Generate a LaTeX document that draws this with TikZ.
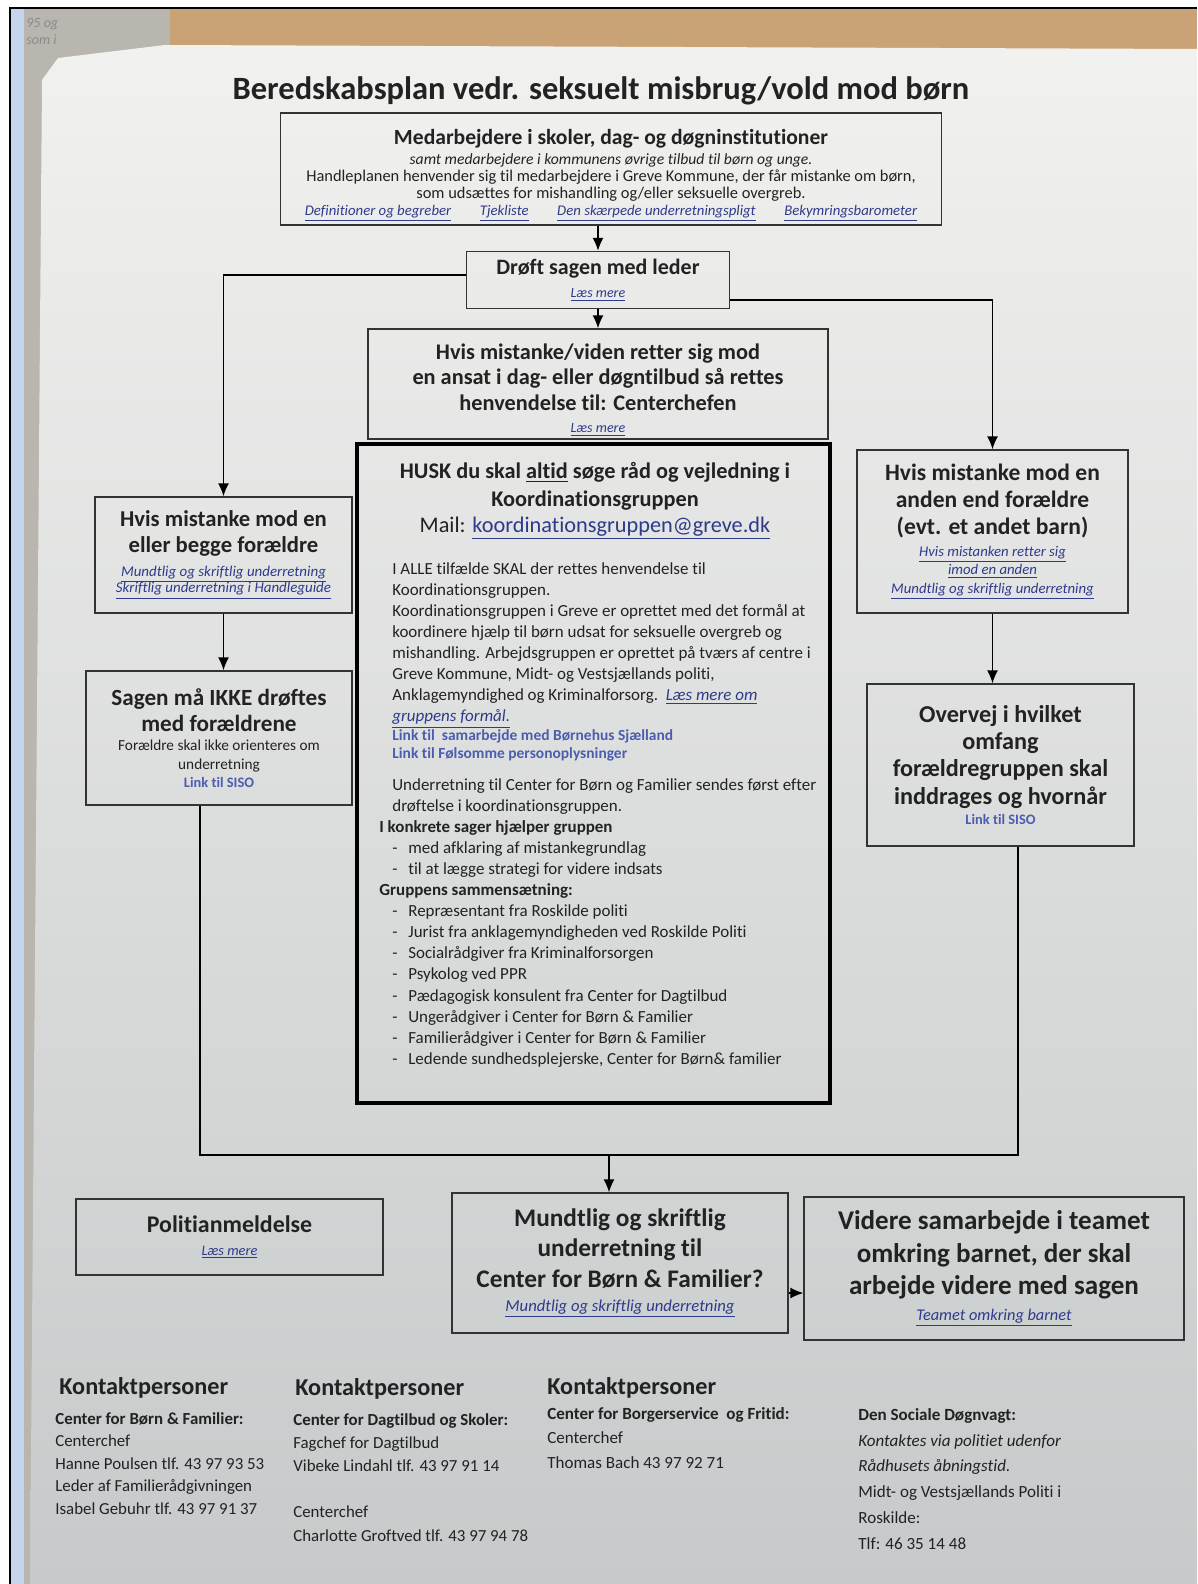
\documentclass[tikz,border=0pt]{standalone}
\usepackage{fontspec}
\setmainfont{Carlito}[Ligatures=NoCommon]
\usetikzlibrary{positioning,arrows.meta,calc}

\definecolor{inkgray}{HTML}{222222}
\definecolor{linkblue}{HTML}{2E3A8C}
\definecolor{sisoblue}{HTML}{4B5DAF}
\definecolor{paperhi}{HTML}{F1F1EF}
\definecolor{paperlo}{HTML}{C6CACA}
\definecolor{tabletop}{HTML}{C9A375}
\definecolor{sheetgray}{HTML}{B9B5AF}
\definecolor{edgeblue}{HTML}{C5D5EE}

\newcommand{\fsz}[2]{\fontsize{#1}{#2}\selectfont}
\newcommand{\weblink}[1]{\textcolor{linkblue}{\underline{\textit{#1}}}}
\newcommand{\indl}{\hspace*{0.26cm}}
\newcommand{\dashl}{\hspace*{0.26cm}\makebox[0.32cm][l]{-}}

\begin{document}
\begin{tikzpicture}[x=0.02cm, y=-0.02cm,
  >={Latex[length=2.6mm,width=2.2mm]},
  box/.style={rectangle, draw=black!80, line width=0.8pt, align=center, text=inkgray, inner sep=2pt},
  contact/.style={anchor=north west, align=left, text=inkgray, inner sep=0pt},
  contacthead/.style={anchor=base west, text=inkgray, inner sep=0pt, font=\bfseries\fsz{13.8}{16}}]

\useasboundingbox (0,0) rectangle (1197,1584);

% photo background
\fill[tabletop] (10,8) rectangle (1197,1584);
\fill[sheetgray] (24,8) rectangle (170,1584);
\node[anchor=west, text=black!45, font=\itshape\fsz{8}{9}, inner sep=0pt] (oldsheet) at (26,24) {95 og};
\node[anchor=west, text=black!45, font=\itshape\fsz{8}{9}, inner sep=0pt] (oldsheetb) at (26,40) {som i};
\shade[top color=paperhi, bottom color=paperlo] (30,1584) -- (42,80) -- (58,58) -- (165,45) -- (1197,49) -- (1197,1584) -- cycle;
\fill[edgeblue] (10,8) rectangle (24,1584);
\draw[black, line width=1pt] (10,1584) -- (10,8) -- (1197,8);

% title
\node (title) at (601,91) [text=inkgray, font=\bfseries\fsz{18.5}{22}] {Beredskabsplan vedr. seksuelt misbrug/vold mod børn};

% flow boxes
\node (staff) at (611,169) [box, minimum width=13.22cm, minimum height=2.22cm, font=\fsz{9.35}{9.7}] {\rule{0pt}{16pt}{\bfseries\fsz{12.3}{14}Medarbejdere i skoler, dag- og døgninstitutioner}\\[1.5pt]
  {\itshape\fsz{8.9}{10}samt medarbejdere i kommunens øvrige tilbud til børn og unge.}\\
  Handleplanen henvender sig til medarbejdere i Greve Kommune, der får mistanke om børn,\\
  som udsættes for mishandling og/eller seksuelle overgreb.\\
  {\fsz{8.4}{9}\makebox[12.25cm]{\weblink{Definitioner og begreber}\hfill\weblink{Tjekliste}\hfill\weblink{Den skærpede underretningspligt}\hfill\weblink{Bekymringsbarometer}}}};

\node (lead) at (598,280) [box, minimum width=5.26cm, minimum height=1.14cm, font=\bfseries\fsz{12.5}{14.5}] {Drøft sagen med leder\\[-1pt]{\mdseries\fsz{8}{9}\weblink{Læs mere}}};

\node (chief) at (598,384) [box, inner sep=0.5pt, minimum width=9.2cm, minimum height=2.2cm, font=\bfseries\fsz{12.7}{14.6}] {\rule{0pt}{15.5pt}Hvis mistanke/viden retter sig mod\\
  en ansat i dag- eller døgntilbud så rettes\\
  henvendelse til: Centerchefen\\[-2pt]
  {\mdseries\fsz{8}{9}\weblink{Læs mere}}};

\node (husk) at (593.5,773.5) [rectangle, draw=black, line width=2pt, minimum width=9.46cm, minimum height=13.18cm] {};
\node (huskhead) at (595,462) [anchor=north, align=center, text=inkgray, inner sep=0pt, font=\fsz{12.7}{16}] {{\bfseries HUSK du skal \underline{altid} søge råd og vejledning i}\\
  {\bfseries Koordinationsgruppen}\\[-1.5pt]
  {\fsz{12.7}{15}Mail: \textcolor{linkblue}{\underline{koordinationsgruppen@greve.dk}}}};
\node (huskbody) at (379,562) [anchor=north west, align=left, text=inkgray, inner sep=0pt, font=\fsz{9.65}{12}] {\indl I ALLE tilfælde SKAL der rettes henvendelse til\\
  \indl Koordinationsgruppen.\\
  \indl Koordinationsgruppen i Greve er oprettet med det formål at\\
  \indl koordinere hjælp til børn udsat for seksuelle overgreb og\\
  \indl mishandling. Arbejdsgruppen er oprettet på tværs af centre i\\
  \indl Greve Kommune, Midt- og Vestsjællands politi,\\
  \indl Anklagemyndighed og Kriminalforsorg.\ \ \weblink{Læs mere om}\\
  \indl \weblink{gruppens formål.}\\[-1.5pt]
  \indl {\bfseries\fsz{8.8}{10}\color{sisoblue}Link til\ \ samarbejde med Børnehus Sjælland}\\[-1.5pt]
  \indl {\bfseries\fsz{8.8}{10}\color{sisoblue}Link til Følsomme personoplysninger}\\[6pt]
  \indl Underretning til Center for Børn og Familier sendes først efter\\
  \indl drøftelse i koordinationsgruppen.\\
  {\bfseries I konkrete sager hjælper gruppen}\\
  \dashl med afklaring af mistankegrundlag\\
  \dashl til at lægge strategi for videre indsats\\
  {\bfseries Gruppens sammensætning:}\\
  \dashl Repræsentant fra Roskilde politi\\
  \dashl Jurist fra anklagemyndigheden ved Roskilde Politi\\
  \dashl Socialrådgiver fra Kriminalforsorgen\\
  \dashl Psykolog ved PPR\\
  \dashl Pædagogisk konsulent fra Center for Dagtilbud\\
  \dashl Ungerådgiver i Center for Børn \& Familier\\
  \dashl Familierådgiver i Center for Børn \& Familier\\
  \dashl Ledende sundhedsplejerske, Center for Børn\& familier};

\node (parents) at (223.5,555) [box, minimum width=5.14cm, minimum height=2.32cm, font=\bfseries\fsz{12.9}{14.5}] {Hvis mistanke mod en\\
  eller begge forældre\\[-1pt]
  {\mdseries\fsz{8.5}{9}\weblink{Mundtlig og skriftlig underretning}}\\[-5pt]
  {\mdseries\fsz{8.5}{9}\weblink{Skriftlig underretning i Handleguide}}};

\node (nodiscuss) at (219,738) [box, minimum width=5.32cm, minimum height=2.68cm, font=\bfseries\fsz{13.2}{15}] {Sagen må IKKE drøftes\\
  med forældrene\\[-4pt]
  {\mdseries\fsz{8.7}{10}Forældre skal ikke orienteres om}\\[-4.5pt]
  {\mdseries\fsz{8.7}{10}underretning}\\[-4.5pt]
  {\fsz{8.2}{10}\color{sisoblue}Link til SISO}};

\node (other) at (992.5,531.5) [box, minimum width=5.42cm, minimum height=3.26cm, font=\bfseries\fsz{13.4}{15.5}] {Hvis mistanke mod en\\
  anden end forældre\\
  (evt. et andet barn)\\[-3pt]
  {\mdseries\fsz{8.4}{9}\weblink{Hvis mistanken retter sig}}\\[-5pt]
  {\mdseries\fsz{8.4}{9}\weblink{imod en anden}}\\[-5pt]
  {\mdseries\fsz{8.4}{9}\weblink{Mundtlig og skriftlig underretning}}};

\node (overvej) at (1000.5,765) [box, minimum width=5.34cm, minimum height=3.24cm, font=\bfseries\fsz{13.8}{15.5}] {Overvej i hvilket\\
  omfang\\
  forældregruppen skal\\
  inddrages og hvornår\\[-4pt]
  {\fsz{8.2}{10}\color{sisoblue}Link til SISO}};

\node (politi) at (229.5,1237) [box, minimum width=6.14cm, minimum height=1.52cm, font=\bfseries\fsz{13.6}{15}] {Politianmeldelse\\[-2pt]
  {\mdseries\fsz{8.2}{9}\weblink{Læs mere}}};

\node (report) at (620,1263) [box, minimum width=6.72cm, minimum height=2.8cm, font=\bfseries\fsz{14.4}{17.5}] {Mundtlig og skriftlig\\
  underretning til\\
  Center for Børn \& Familier?\\[-4pt]
  {\mdseries\fsz{9.5}{10}\weblink{Mundtlig og skriftlig underretning}}};

\node (team) at (994,1268.5) [box, minimum width=7.6cm, minimum height=2.86cm, font=\bfseries\fsz{15.4}{18.5}] {Videre samarbejde i teamet\\
  omkring barnet, der skal\\
  arbejde videre med sagen\\[-4pt]
  {\mdseries\fsz{9.3}{10}\weblink{Teamet omkring barnet}}};

% connectors
\coordinate (busmid) at (609,1155);
\draw[->, line width=0.8pt] (staff.south -| lead.north) -- (lead.north);
\draw[->, line width=0.8pt] (lead.south) -- (chief.north);
\draw[->, line width=0.8pt] ([yshift=0.1cm]lead.west) -| (parents.north);
\draw[->, line width=0.8pt] ([yshift=-0.4cm]lead.east) -| (other.north);
\draw[->, line width=0.8pt] (parents.south) -- (parents.south |- nodiscuss.north);
\draw[->, line width=0.8pt] (other.south) -- (other.south |- overvej.north);
\draw[line width=0.8pt] ([xshift=-0.38cm]nodiscuss.south) |- (busmid) -| ([xshift=0.35cm]overvej.south);
\draw[->, line width=0.8pt] (busmid) -- (busmid |- report.north);
\draw[->, line width=0.8pt] ([yshift=-0.6cm]report.east) -- ([yshift=-0.6cm]report.east -| team.west);

% contacts
\node (kontakt1) at (59,1394) [contacthead] {Kontaktpersoner};
\node (kontakt1body) at (55,1412) [contact, font=\fsz{9.6}{12.8}] {{\bfseries Center for Børn \& Familier:}\\
  Centerchef\\
  Hanne Poulsen tlf. 43 97 93 53\\
  Leder af Familierådgivningen\\
  Isabel Gebuhr tlf. 43 97 91 37};

\node (kontakt2) at (295,1395) [contacthead] {Kontaktpersoner};
\node (kontakt2body) at (293,1413) [contact, font=\fsz{9.6}{13.2}] {{\bfseries Center for Dagtilbud og Skoler:}\\
  Fagchef for Dagtilbud\\
  Vibeke Lindahl tlf. 43 97 91 14\\
  \mbox{}\\
  Centerchef\\
  Charlotte Groftved tlf. 43 97 94 78};

\node (kontakt3) at (547,1394) [contacthead] {Kontaktpersoner};
\node (kontakt3body) at (547,1407) [contact, font=\fsz{9.7}{13.9}] {{\bfseries Center for Borgerservice\ \ og Fritid:}\\
  Centerchef\\
  Thomas Bach 43 97 92 71};

\node (dognvagt) at (858,1408) [contact, font=\fsz{9.7}{14.7}] {{\bfseries Den Sociale Døgnvagt:}\\
  {\itshape Kontaktes via politiet udenfor}\\
  {\itshape Rådhusets åbningstid.}\\
  Midt- og Vestsjællands Politi i\\
  Roskilde:\\
  Tlf: 46 35 14 48};
\end{tikzpicture}
\end{document}
